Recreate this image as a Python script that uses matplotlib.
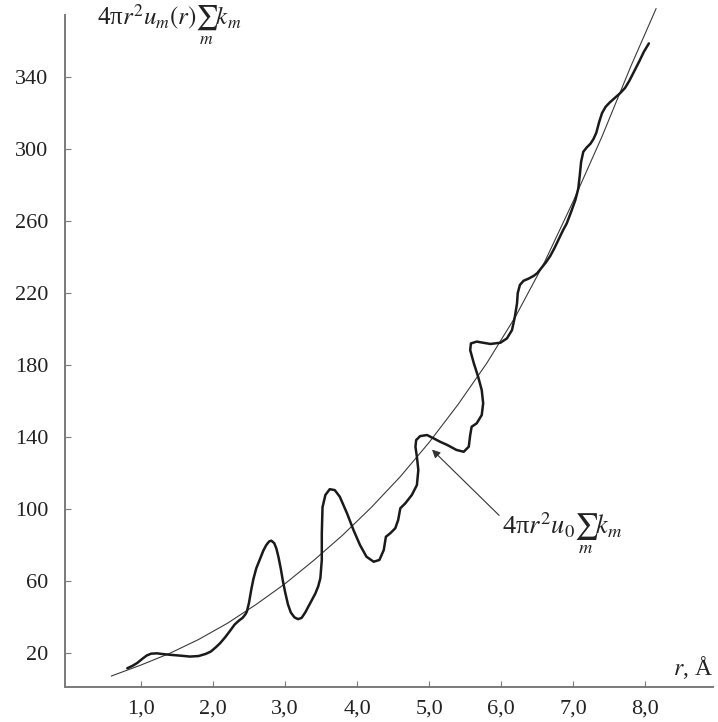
import matplotlib
matplotlib.use('Agg')
import matplotlib.pyplot as plt
from matplotlib.ticker import FixedLocator, FuncFormatter

plt.rcParams['font.family'] = ['Liberation Serif', 'DejaVu Serif']
plt.rcParams['mathtext.fontset'] = 'stix'

# thick curve: 4*pi*r^2*u_m(r)*sum k_m
r_exp = [0.81, 0.88, 0.95, 1.02, 1.08, 1.14, 1.22, 1.30, 1.40, 1.55,
         1.68, 1.80, 1.90, 1.97, 2.04, 2.10, 2.17, 2.24, 2.30, 2.36,
         2.41, 2.45, 2.47, 2.50, 2.53, 2.56, 2.60, 2.65, 2.70, 2.74,
         2.78, 2.81, 2.85, 2.88, 2.91, 2.94, 2.97, 3.00, 3.04, 3.08,
         3.13, 3.18, 3.23, 3.28, 3.35, 3.42, 3.46, 3.49, 3.51, 3.51,
         3.52, 3.56, 3.62, 3.69, 3.76, 3.86, 3.95, 4.04, 4.13, 4.23,
         4.31, 4.37, 4.40, 4.46, 4.53, 4.57, 4.60, 4.67, 4.76, 4.83,
         4.85, 4.83, 4.81, 4.82, 4.875, 4.97, 5.06, 5.15, 5.25, 5.38,
         5.48, 5.55, 5.57, 5.59, 5.66, 5.73, 5.75, 5.73, 5.68, 5.62,
         5.57, 5.58, 5.66, 5.85, 5.99, 6.08, 6.15, 6.19, 6.22, 6.23,
         6.26, 6.31, 6.38, 6.45, 6.50, 6.56, 6.62, 6.68, 6.74, 6.80,
         6.86, 6.91, 6.97, 7.03, 7.07, 7.09, 7.11, 7.14, 7.19, 7.24,
         7.28, 7.32, 7.36, 7.40, 7.45, 7.51, 7.58, 7.65, 7.72, 7.78,
         7.85, 7.92, 7.98, 8.05]
g_exp = [11.5, 12.8, 14.5, 16.8, 18.6, 19.6, 19.8, 19.4, 19.0, 18.5,
         18.0, 18.3, 19.5, 20.8, 23.2, 25.5, 28.8, 32.5, 35.8, 38.0,
         39.5, 41.5, 43.0, 48.0, 55.0, 61.0, 67.0, 72.0, 77.0, 80.0,
         82.0, 82.4, 81.0, 78.0, 73.0, 67.0, 60.0, 54.0, 47.0, 42.5,
         39.8, 38.8, 39.5, 42.5, 47.8, 53.0, 57.0, 61.5, 71.7, 86.5,
         101.0, 107.8, 111.0, 110.5, 106.8, 97.6, 88.3, 80.0, 73.5, 70.7,
         71.7, 77.2, 84.6, 86.5, 89.3, 93.9, 100.4, 103.2, 107.8, 113.3,
         121.7, 129.0, 134.6, 138.3, 140.5, 141.1, 139.3, 137.4, 135.6, 132.8,
         131.8, 134.6, 141.1, 145.7, 147.6, 152.2, 158.7, 166.1, 173.5, 181.0,
         188.3, 192.0, 193.0, 191.7, 192.4, 194.8, 199.4, 206.8, 214.3, 220.0,
         224.5, 226.8, 228.0, 229.5, 231.0, 234.0, 237.0, 240.5, 245.0, 250.0,
         255.0, 258.7, 265.0, 271.7, 278.0, 285.0, 293.0, 298.5, 301.0, 303.0,
         305.5, 309.0, 315.0, 320.0, 323.5, 326.0, 328.5, 331.0, 334.0, 338.0,
         343.5, 349.0, 354.0, 358.7]

# thin curve: 4*pi*r^2*u_0*sum k_m
r_avg = [0.59, 1.00, 1.40, 1.80, 2.20, 2.60, 3.00, 3.40, 3.80, 4.20,
         4.60, 5.00, 5.40, 5.80, 6.20, 6.60, 7.00, 7.40, 7.80, 8.15]
g_avg = [7.2, 13.3, 19.8, 27.5, 36.5, 47.0, 58.5, 71.5, 85.5, 101.0,
         118.0, 137.0, 158.0, 181.0, 207.0, 237.0, 271.0, 307.0, 346.0, 378.0]

x_ticks = [1, 2, 3, 4, 5, 6, 7, 8]
y_ticks = [20, 60, 100, 140, 180, 220, 260, 300, 340]

fig = plt.figure(figsize=(7.18, 7.22), dpi=100)
ax = fig.add_axes([0.0905, 0.0485, 0.9025, 0.9305])

ax.plot(r_avg, g_avg, color='#3a3a3a', lw=0.8, clip_on=False)
ax.plot(r_exp, g_exp, color='#1a1a1a', lw=1.8, solid_joinstyle='round',
        solid_capstyle='round')

ax.set_xlim(-0.055, 8.94)
ax.set_ylim(1.1, 374.4)

for s in ['top', 'right']:
    ax.spines[s].set_visible(False)
for s in ['left', 'bottom']:
    ax.spines[s].set_color('#7a7a7a')
    ax.spines[s].set_linewidth(1.4)

ax.xaxis.set_major_locator(FixedLocator(x_ticks))
ax.yaxis.set_major_locator(FixedLocator(y_ticks))
ax.xaxis.set_major_formatter(FuncFormatter(lambda v, p: f'{v:.1f}'.replace('.', ',')))
ax.yaxis.set_major_formatter(FuncFormatter(lambda v, p: f'{v:.0f}'))
ax.tick_params(axis='both', direction='in', length=4, width=0.8, color='#7a7a7a',
               labelsize=16, labelcolor='#222222')
ax.tick_params(axis='x', pad=9)
ax.tick_params(axis='y', pad=12)

ax.text(0.39, 369, r'4π$r^2u_m(r)\sum_m k_m$', fontsize=18, color='#222222',
        ha='left', va='center')
ax.text(8.94, 4.5, r'$r$, Å', fontsize=17, color='#222222', ha='right', va='bottom')

ax.annotate(r'4π$r^2u_0\sum_m k_m$', xy=(5.04, 133), xytext=(6.01, 86),
            fontsize=19, color='#222222', ha='left', va='center',
            arrowprops=dict(arrowstyle='-|>', color='#333333', lw=0.8,
                            mutation_scale=12, shrinkA=0, shrinkB=0,
                            relpos=(0, 0.85)))

fig.savefig('out.png', dpi=100)
